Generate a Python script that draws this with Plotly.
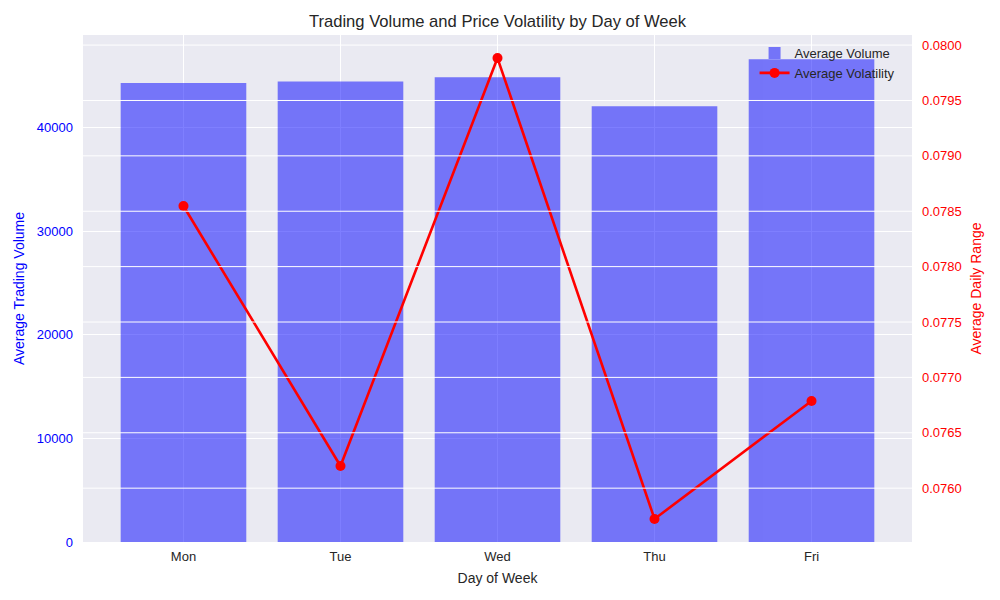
#!/usr/bin/env python3
"""Trading volume (bars) and price volatility (line) by day of week, twin y axes."""

import plotly.graph_objects as go

days = ['Mon', 'Tue', 'Wed', 'Thu', 'Fri']
avg_volume = [44300, 44450, 44850, 42050, 46600]
avg_volatility = [0.078547, 0.076200, 0.079883, 0.075722, 0.076787]

vol_ticks = [0, 10000, 20000, 30000, 40000]
range_ticks = [0.0760, 0.0765, 0.0770, 0.0775, 0.0780, 0.0785, 0.0790, 0.0795, 0.0800]

FONT = 'Liberation Sans, Arial, DejaVu Sans'
BG = '#EAEAF2'
DARK = '#262626'


def padded(lo, hi, frac=0.05):
    span = hi - lo
    return [lo - span * frac, hi + span * frac]


def main():
    fig = go.Figure()

    fig.add_trace(go.Bar(
        x=days, y=avg_volume, name='Average Volume',
        marker=dict(color='blue', line=dict(width=0)),
        opacity=0.5, width=0.8, yaxis='y',
    ))
    fig.add_trace(go.Scatter(
        x=days, y=avg_volatility, name='Average Volatility',
        mode='lines+markers', yaxis='y2',
        line=dict(color='red', width=2.6),
        marker=dict(color='red', size=10),
    ))

    # the twin axis grid sits over the bars, as in matplotlib's twinx
    for t in range_ticks:
        fig.add_shape(type='line', xref='paper', x0=0, x1=1, yref='y2', y0=t, y1=t,
                      line=dict(color='white', width=1), layer='above')

    # page body has an 8px margin, so margins are shifted by that
    fig.update_layout(
        width=1000, height=600,
        paper_bgcolor='white', plot_bgcolor=BG,
        margin=dict(l=75, r=96, t=27, b=66, autoexpand=False),
        font=dict(family=FONT, size=13, color=DARK),
        title=dict(text='Trading Volume and Price Volatility by Day of Week',
                   xref='paper', x=0.5, xanchor='center',
                   y=1 - 13 / 600, yanchor='middle',
                   font=dict(size=16.6, color=DARK)),
        bargap=0.2,
        showlegend=True,
        legend=dict(x=0.985, y=0.994, xanchor='right', yanchor='top',
                    bgcolor='rgba(0,0,0,0)', borderwidth=0,
                    font=dict(size=13, color=DARK), tracegroupgap=2),
        xaxis=dict(
            title=dict(text='Day of Week', font=dict(size=14, color=DARK), standoff=10),
            showgrid=True, gridcolor='white', gridwidth=1,
            ticks='', showline=False, zeroline=False, ticklabelstandoff=5,
            tickfont=dict(size=13, color=DARK), range=[-0.64, 4.64],
        ),
        yaxis=dict(
            title=dict(text='Average Trading Volume', font=dict(size=14, color='blue'), standoff=8),
            range=[0, max(avg_volume) * 1.05],
            tickvals=vol_ticks, tickformat='d', ticklabelstandoff=9,
            tickfont=dict(size=13, color='blue'),
            showgrid=True, gridcolor='white', gridwidth=1,
            ticks='', showline=False, zeroline=False,
        ),
        yaxis2=dict(
            title=dict(text='Average Daily Range', font=dict(size=14, color='red'), standoff=10),
            overlaying='y', side='right',
            range=padded(min(avg_volatility), max(avg_volatility)),
            tickvals=range_ticks, tickformat='.4f', ticklabelstandoff=9,
            tickfont=dict(size=13, color='red'),
            showgrid=False, ticks='', showline=False, zeroline=False,
        ),
    )

    fig.write_html('out.html')


if __name__ == '__main__':
    main()
